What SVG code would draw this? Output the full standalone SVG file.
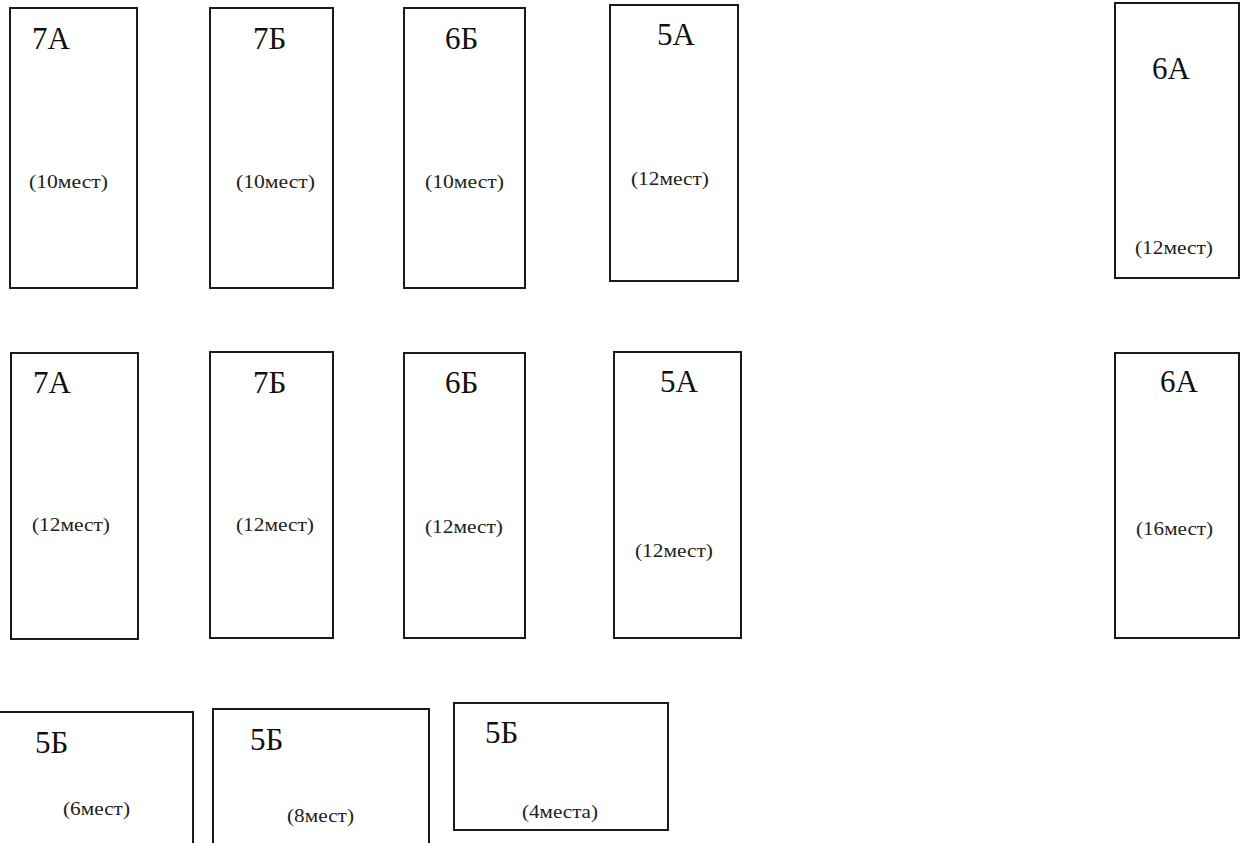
<svg xmlns="http://www.w3.org/2000/svg" width="1248" height="843" viewBox="0 0 1248 843">
<style>
.box{fill:#fff;stroke:#1a1a1a;stroke-width:2}
.big{font-size:31px;fill:#111}
.small{font-size:19px;fill:#222}
</style>
<rect width="1248" height="843" fill="#fff"/>
<g font-family="Liberation Serif, DejaVu Serif, serif">
<g id="r1-7A"><rect class="box" x="10" y="8" width="127" height="280"/><text class="big" x="32" y="49">7А</text><text class="small" x="29" y="188" textLength="79" lengthAdjust="spacingAndGlyphs">(10мест)</text></g>
<g id="r1-7B"><rect class="box" x="210" y="8" width="123" height="280"/><text class="big" x="253" y="49">7Б</text><text class="small" x="236" y="188" textLength="79" lengthAdjust="spacingAndGlyphs">(10мест)</text></g>
<g id="r1-6B"><rect class="box" x="404" y="8" width="121" height="280"/><text class="big" x="445" y="49">6Б</text><text class="small" x="425" y="188" textLength="79" lengthAdjust="spacingAndGlyphs">(10мест)</text></g>
<g id="r1-5A"><rect class="box" x="610" y="5" width="128" height="276"/><text class="big" x="657" y="45">5А</text><text class="small" x="631" y="185" textLength="78" lengthAdjust="spacingAndGlyphs">(12мест)</text></g>
<g id="r1-6A"><rect class="box" x="1115" y="3" width="124" height="275"/><text class="big" x="1152" y="79">6А</text><text class="small" x="1135" y="254" textLength="78" lengthAdjust="spacingAndGlyphs">(12мест)</text></g>
<g id="r2-7A"><rect class="box" x="11" y="353" width="127" height="286"/><text class="big" x="33" y="393">7А</text><text class="small" x="32" y="531" textLength="78" lengthAdjust="spacingAndGlyphs">(12мест)</text></g>
<g id="r2-7B"><rect class="box" x="210" y="352" width="123" height="286"/><text class="big" x="253" y="393">7Б</text><text class="small" x="236" y="531" textLength="78" lengthAdjust="spacingAndGlyphs">(12мест)</text></g>
<g id="r2-6B"><rect class="box" x="404" y="353" width="121" height="285"/><text class="big" x="445" y="393">6Б</text><text class="small" x="425" y="533" textLength="78" lengthAdjust="spacingAndGlyphs">(12мест)</text></g>
<g id="r2-5A"><rect class="box" x="614" y="352" width="127" height="286"/><text class="big" x="660" y="392">5А</text><text class="small" x="635" y="557" textLength="78" lengthAdjust="spacingAndGlyphs">(12мест)</text></g>
<g id="r2-6A"><rect class="box" x="1115" y="353" width="124" height="285"/><text class="big" x="1160" y="392">6А</text><text class="small" x="1136" y="535" textLength="77" lengthAdjust="spacingAndGlyphs">(16мест)</text></g>
<g id="r3-5B-1"><rect class="box" x="-5" y="712" width="198" height="140"/><text class="big" x="35" y="753">5Б</text><text class="small" x="63" y="815" textLength="67" lengthAdjust="spacingAndGlyphs">(6мест)</text></g>
<g id="r3-5B-2"><rect class="box" x="213" y="709" width="216" height="143"/><text class="big" x="250" y="750">5Б</text><text class="small" x="287" y="822" textLength="67" lengthAdjust="spacingAndGlyphs">(8мест)</text></g>
<g id="r3-5B-3"><rect class="box" x="454" y="703" width="214" height="127"/><text class="big" x="485" y="743">5Б</text><text class="small" x="522" y="818" textLength="76" lengthAdjust="spacingAndGlyphs">(4места)</text></g>
</g>
<g id="connectors"></g>
</svg>
